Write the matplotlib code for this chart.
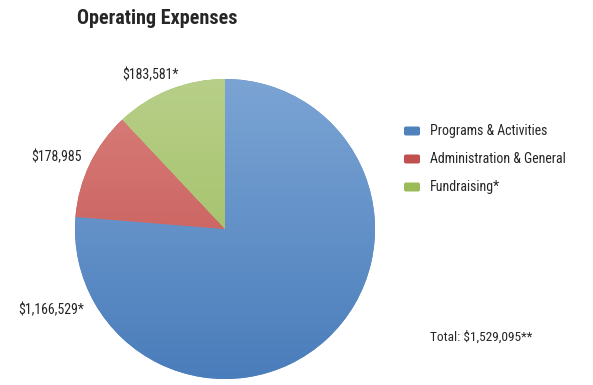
import numpy as np
import matplotlib
matplotlib.use("Agg")
import matplotlib.pyplot as plt
from matplotlib.colors import LinearSegmentedColormap
from matplotlib.patches import FancyBboxPatch

plt.rcParams['font.family'] = ['Roboto Condensed', 'DejaVu Sans']

categories = ["Programs & Activities", "Administration & General", "Fundraising*"]
values = [1166529, 178985, 183581]
value_labels = ["$1,166,529*", "$178,985", "$183,581*"]
total_label = "Total: $1,529,095**"

base_colors = ["#4f81bd", "#c0504d", "#9bbb59"]
# light (top) -> dark (bottom) for each slice
grad_colors = [("#7ba4d4", "#4a7dbb"), ("#da807d", "#bf4e4b"), ("#b7cf88", "#9ab958")]
text_color = "#262626"

W, H = 593, 385
fig = plt.figure(figsize=(W / 100, H / 100), dpi=100)

cx, cy, r = 225, H - 229, 150
ax = fig.add_axes([(cx - r) / W, (cy - r) / H, 2 * r / W, 2 * r / H])
ax.set_aspect("equal")
ax.axis("off")

wedges, _ = ax.pie(values, startangle=90, counterclock=False, radius=1,
                   colors=base_colors, center=(0, 0), frame=False,
                   wedgeprops=dict(linewidth=0))

grad = np.linspace(1, 0, 256).reshape(-1, 1)
for w, (c_top, c_bot) in zip(wedges, grad_colors):
    cmap = LinearSegmentedColormap.from_list("g", [c_bot, c_top])
    im = ax.imshow(grad, cmap=cmap, extent=[-1, 1, -1, 1], origin="upper",
                   vmin=0, vmax=1, aspect="auto", zorder=2)
    im.set_clip_path(w)

ax.set_xlim(-1, 1)
ax.set_ylim(-1, 1)

# slice value labels
label_pos = [(51, 310), (57, 157), (150, 75)]
for (x, y), t in zip(label_pos, value_labels):
    fig.text(x / W, 1 - y / H, t, ha="center", va="center", fontsize=10,
             color=text_color)

fig.text(157 / W, 1 - 18 / H, "Operating Expenses", ha="center", va="center",
         fontsize=14.5, fontweight="bold", color=text_color)

# legend
leg_y = [131, 159, 187]
for y, c, name in zip(leg_y, base_colors, categories):
    p = FancyBboxPatch((404 / W, 1 - (y + 4.5) / H), 16 / W, 9 / H,
                       boxstyle="round,pad=0,rounding_size=0.004",
                       transform=fig.transFigure, facecolor=c, edgecolor="none")
    fig.patches.append(p)
    fig.text(430 / W, 1 - y / H, name, ha="left", va="center", fontsize=10,
             color=text_color)

fig.text(430 / W, 1 - 337 / H, total_label, ha="left", va="center",
         fontsize=9.6, color=text_color)

fig.savefig("out.png", dpi=100, facecolor="white")
